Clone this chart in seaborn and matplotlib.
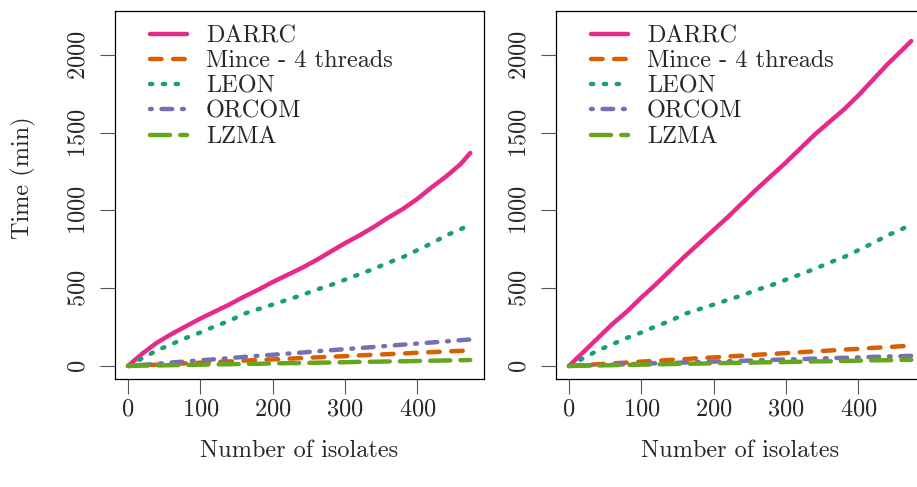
import numpy as np
import pandas as pd
from matplotlib import pyplot as plt
import seaborn as sns

sns.set_style('white')
plt.rcParams['font.family'] = ['cmr10', 'DejaVu Serif']
plt.rcParams['axes.formatter.use_mathtext'] = True
plt.rcParams['font.size'] = 17.5

# Number of isolates vs time (min)
isolates = [0, 20, 40, 60, 80, 100, 120, 140, 160, 180, 200, 220, 240,
            260, 280, 300, 320, 340, 360, 380, 400, 420, 440, 460, 473]

tools = ['DARRC', 'Mince - 4 threads', 'LEON', 'ORCOM', 'LZMA']

# left panel
left_darrc = [0, 80, 150, 205, 255, 305, 350, 395, 445, 490, 540, 585, 630,
              680, 735, 790, 840, 895, 955, 1010, 1075, 1150, 1220, 1300, 1370]
left_mince = [0, 4, 8, 12, 17, 21, 25, 29, 34, 38, 42, 46, 51,
              55, 59, 63, 68, 72, 76, 80, 85, 89, 93, 97, 100]
left_leon = [0, 50, 100, 140, 180, 215, 255, 290, 335, 365, 395, 425, 455,
             490, 520, 555, 590, 625, 665, 700, 745, 790, 840, 880, 910]
left_orcom = [0, 7, 14, 22, 29, 36, 43, 50, 58, 65, 72, 79, 86,
              94, 101, 108, 115, 122, 130, 137, 144, 151, 158, 166, 170]
left_lzma = [0, 2, 3, 5, 6, 8, 10, 11, 13, 14, 16, 18, 19,
             21, 22, 24, 26, 27, 29, 30, 32, 34, 35, 37, 38]

# right panel
right_darrc = [0, 90, 180, 270, 350, 440, 525, 615, 705, 790, 875, 960, 1050,
               1140, 1225, 1310, 1400, 1490, 1570, 1650, 1740, 1840, 1940, 2030, 2090]
right_mince = [0, 6, 11, 17, 22, 28, 33, 39, 44, 50, 55, 61, 66,
               72, 77, 83, 88, 94, 99, 105, 110, 116, 121, 127, 130]
right_leon = [0, 50, 100, 140, 180, 215, 255, 290, 335, 365, 395, 425, 455,
              490, 520, 555, 590, 625, 665, 700, 745, 790, 840, 880, 912]
right_orcom = [0, 3, 6, 8, 11, 14, 17, 19, 22, 25, 28, 30, 33,
               36, 39, 41, 44, 47, 50, 52, 55, 58, 61, 63, 65]
right_lzma = [0, 2, 3, 5, 7, 8, 10, 12, 14, 15, 17, 19, 20,
              22, 24, 25, 27, 29, 30, 32, 34, 36, 37, 39, 40]

palette = {'DARRC': '#E7298A', 'Mince - 4 threads': '#D95F02', 'LEON': '#1B9E77',
           'ORCOM': '#7570B3', 'LZMA': '#66A61E'}
dashes = {'DARRC': '', 'Mince - 4 threads': (2.6, 2.6), 'LEON': (0.5, 2.4),
          'ORCOM': (0.4, 2.2, 2.4, 2.2), 'LZMA': (4.5, 2.3)}


def to_long(series):
    frames = []
    for name, vals in zip(tools, series):
        frames.append(pd.DataFrame({'isolates': isolates, 'time': vals, 'tool': name}))
    return pd.concat(frames, ignore_index=True)


left_df = to_long([left_darrc, left_mince, left_leon, left_orcom, left_lzma])
right_df = to_long([right_darrc, right_mince, right_leon, right_orcom, right_lzma])

fig = plt.figure(figsize=(9.17, 4.87), dpi=100)
ax1 = fig.add_axes([115 / 917, 1 - 379 / 487, 369 / 917, 368 / 487])
ax2 = fig.add_axes([556 / 917, 1 - 379 / 487, 369 / 917, 368 / 487])

for ax, df in [(ax1, left_df), (ax2, right_df)]:
    sns.lineplot(data=df, x='isolates', y='time', hue='tool', style='tool',
                 hue_order=tools, style_order=tools, palette=palette, dashes=dashes,
                 linewidth=3.2, ax=ax, legend=False,
                 dash_capstyle='round', solid_capstyle='round')
    ax.set_xlim(-18, 492)
    ax.set_ylim(-84, 2283)
    ax.set_xticks([0, 100, 200, 300, 400])
    ax.set_yticks([0, 500, 1000, 1500, 2000])
    for s in ax.spines.values():
        s.set_visible(True)
        s.set_color('black')
        s.set_linewidth(0.9)
    ax.tick_params(axis='x', direction='out', length=11, width=0.8, color='#555555',
                   pad=3, labelsize=17.5, bottom=True)
    ax.tick_params(axis='y', direction='out', length=11, width=0.8, color='#555555',
                   pad=15, labelsize=17.5, left=True, labelrotation=90)
    for lab in ax.get_yticklabels():
        lab.set_va('center')
        lab.set_ha('center')
    ax.set_xlabel('Number of isolates', fontsize=17.5, labelpad=14)
    ax.set_ylabel('')
    ax.legend(ax.get_lines()[:5], tools, loc='upper left', frameon=False,
              bbox_to_anchor=(0.095, 0.962), borderpad=0, borderaxespad=0,
              fontsize=17.5, handlelength=1.5, handletextpad=0.8, labelspacing=0.13)

ax1.set_ylabel('Time (min)', fontsize=17.5)
ax1.yaxis.set_label_coords(-0.215, 0.546)

fig.savefig('out.png', dpi=100)
